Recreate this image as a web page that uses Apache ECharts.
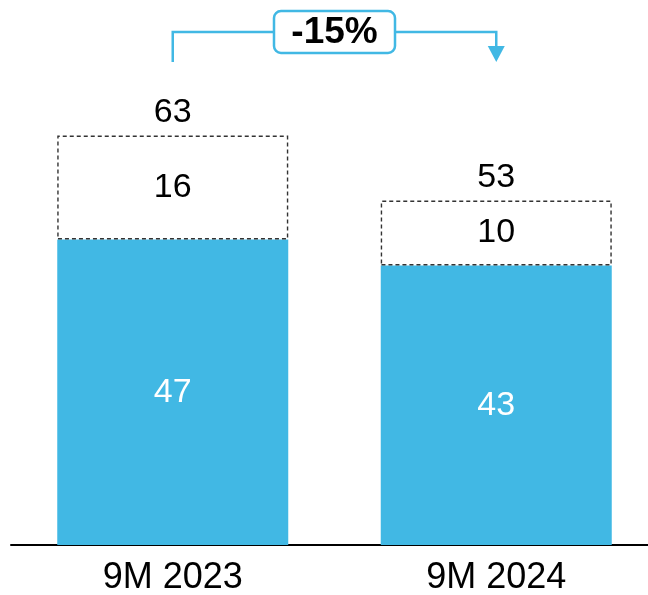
<!DOCTYPE html>
<html>
<head>
<meta charset="utf-8">
<script src="https://cdn.jsdelivr.net/npm/echarts@6/dist/echarts.min.js"></script>
<style>
  html, body { margin: 0; padding: 0; background: #fff; }
  #chart { width: 648px; height: 595px; }
</style>
</head>
<body>
<div id="chart"></div>
<script>
// Period categories
const periods = ['9M 2023', '9M 2024'];
// Base (solid) part of each bar
const baseValues = [47, 43];
// Additional (dashed outline) part stacked on top
const extraValues = [16, 10];
// Totals printed above each bar
const totalValues = [63, 53];
// Change callout text
const changeLabel = '-15%';

const BLUE = '#41B8E4';
const FONT = 'Liberation Sans, Arial, sans-serif';

const chart = echarts.init(document.getElementById('chart'), null, { renderer: 'canvas' });

chart.setOption({
  animation: false,
  backgroundColor: '#fff',
  grid: { left: 11, width: 647, top: 25, bottom: 50, outerBoundsMode: 'none', containLabel: false },
  xAxis: {
    type: 'category',
    data: periods,
    axisLine: { show: true, lineStyle: { color: '#000', width: 2 } },
    axisTick: { show: false },
    axisLabel: { color: '#000', fontSize: 36, fontFamily: FONT, margin: 15 }
  },
  yAxis: {
    type: 'value',
    min: 0,
    max: 80,
    show: false,
    splitLine: { show: false }
  },
  series: [
    {
      name: 'base',
      type: 'bar',
      stack: 'total',
      barWidth: 231,
      data: baseValues,
      itemStyle: { color: BLUE },
      label: {
        show: true, position: 'inside', color: '#fff',
        fontSize: 34, fontFamily: FONT
      }
    },
    {
      name: 'extra',
      type: 'bar',
      stack: 'total',
      barWidth: 231,
      data: extraValues,
      itemStyle: {
        color: 'rgba(255,255,255,0)',
        borderColor: '#333',
        borderWidth: 1.4,
        borderType: [4, 3]
      },
      label: {
        show: true, position: 'inside', color: '#000',
        fontSize: 34, fontFamily: FONT
      }
    },
    {
      name: 'total',
      type: 'scatter',
      data: totalValues,
      symbolSize: 0,
      silent: true,
      itemStyle: { opacity: 1, color: '#000' },
      label: {
        show: true, position: 'top', distance: 6, color: '#000',
        fontSize: 34, fontFamily: FONT
      }
    }
  ]
});

// Change bracket: from the first bar over to an arrow on the second bar
function drawBracket() {
  const x1 = chart.convertToPixel({ xAxisIndex: 0 }, periods[0]);
  const x2 = chart.convertToPixel({ xAxisIndex: 0 }, periods[1]);
  const yLine = 32, yEnd = 62, arrowH = 16, arrowW = 17;
  const mid = (x1 + x2) / 2;
  const boxW = 121, boxH = 42;
  chart.setOption({
    graphic: [
      {
        type: 'polyline',
        shape: { points: [[x1, yEnd], [x1, yLine], [x2, yLine], [x2, yEnd - arrowH]] },
        style: { stroke: BLUE, lineWidth: 2.5, fill: null }
      },
      {
        type: 'polygon',
        shape: { points: [[x2 - arrowW / 2, yEnd - arrowH], [x2 + arrowW / 2, yEnd - arrowH], [x2, yEnd]] },
        style: { fill: BLUE }
      },
      {
        type: 'rect',
        shape: { x: mid - boxW / 2, y: yLine - boxH / 2, width: boxW, height: boxH, r: 7 },
        style: { fill: '#fff', stroke: BLUE, lineWidth: 2.5 }
      },
      {
        type: 'text',
        x: mid, y: yLine + 1,
        style: {
          text: changeLabel, fill: '#000', font: 'bold 37px ' + FONT,
          align: 'center', verticalAlign: 'middle'
        }
      }
    ]
  });
}
drawBracket();
</script>
</body>
</html>
